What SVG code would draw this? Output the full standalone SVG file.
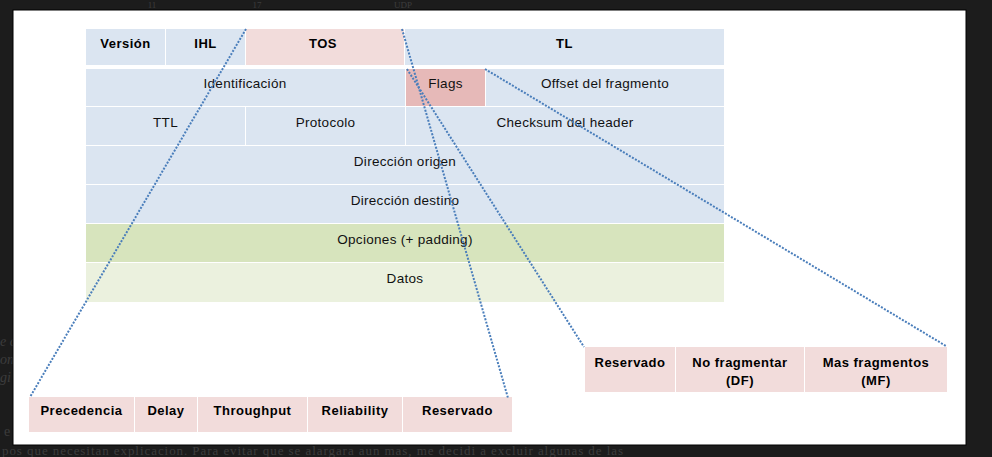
<svg xmlns="http://www.w3.org/2000/svg" width="992" height="457" viewBox="0 0 992 457">
<style>
  .bgtxt { font-family: "Liberation Serif", serif; fill: #3c3c3c; }
  .blue { fill: #dbe5f1; }
  .pink { fill: #f2dcdb; }
  .flag { fill: #e6b9b8; }
  .green { fill: #d7e4bd; }
  .lgreen { fill: #ebf1de; }
  .t { font-family: "Liberation Sans", Arial, sans-serif; font-size: 13.5px; letter-spacing: 0.3px; fill: #111; text-anchor: middle; }
  .b { font-family: "Liberation Sans", Arial, sans-serif; font-size: 13px; font-weight: bold; letter-spacing: 0.5px; fill: #000; text-anchor: middle; }
  .dot { fill: none; stroke: #4a7ebb; stroke-width: 2; stroke-dasharray: 2 1.5; }
</style>
<rect x="0" y="0" width="992" height="457" fill="#1c1c1c"/>
<g id="background-text">
  <text class="bgtxt" x="152" y="8" font-size="9" text-anchor="middle">11</text>
  <text class="bgtxt" x="257" y="8" font-size="9" text-anchor="middle">17</text>
  <text class="bgtxt" x="403" y="8" font-size="9" text-anchor="middle">UDP</text>
  <text class="bgtxt" x="0" y="346" font-size="14" font-style="italic">e c</text>
  <text class="bgtxt" x="0" y="364" font-size="14" font-style="italic">on</text>
  <text class="bgtxt" x="0" y="382" font-size="14" font-style="italic">gi</text>
  <text class="bgtxt" x="4" y="436" font-size="14">e e</text>
  <text class="bgtxt" x="2" y="455" font-size="13" textLength="621" lengthAdjust="spacing">pos que necesitan explicacion. Para evitar que se alargara aun mas, me decidi a excluir algunas de las</text>
</g>
<rect x="13" y="10" width="953" height="435" fill="#ffffff" stroke="#000" stroke-width="1"/>

<g id="header">
  <g id="version"><rect class="blue" x="86" y="29" width="79" height="36"/><text class="b" x="125.5" y="48">Versión</text></g>
  <g id="ihl"><rect class="blue" x="166" y="29" width="79" height="36"/><text class="b" x="205.5" y="48">IHL</text></g>
  <g id="tos"><rect class="pink" x="246" y="29" width="158" height="36"/><text class="b" x="323" y="48">TOS</text></g>
  <g id="tl"><rect class="blue" x="405" y="29" width="319" height="36"/><text class="b" x="564.5" y="48">TL</text></g>

  <g id="identificacion"><rect class="blue" x="86" y="69" width="319" height="37"/><text class="t" x="245" y="87.5">Identificación</text></g>
  <g id="flags"><rect class="flag" x="406" y="69" width="79" height="37"/><text class="t" x="445.5" y="87.5">Flags</text></g>
  <g id="offset"><rect class="blue" x="486" y="69" width="238" height="37"/><text class="t" x="605" y="87.5">Offset del fragmento</text></g>

  <g id="ttl"><rect class="blue" x="86" y="107" width="159" height="38"/><text class="t" x="165.5" y="127">TTL</text></g>
  <g id="protocolo"><rect class="blue" x="246" y="107" width="159" height="38"/><text class="t" x="325.5" y="127">Protocolo</text></g>
  <g id="checksum"><rect class="blue" x="406" y="107" width="318" height="38"/><text class="t" x="565" y="127">Checksum del header</text></g>

  <g id="origen"><rect class="blue" x="86" y="146" width="638" height="38"/><text class="t" x="405" y="165.5">Dirección origen</text></g>
  <g id="destino"><rect class="blue" x="86" y="185" width="638" height="38"/><text class="t" x="405" y="204.5">Dirección destino</text></g>
  <g id="opciones"><rect class="green" x="86" y="224" width="638" height="38"/><text class="t" x="405" y="243.5">Opciones (+ padding)</text></g>
  <g id="datos"><rect class="lgreen" x="86" y="263" width="638" height="39"/><text class="t" x="405" y="282.5">Datos</text></g>
</g>

<g id="tos-detail">
  <g id="precedencia"><rect class="pink" x="29" y="397" width="105" height="35"/><text class="b" x="81.5" y="415">Precedencia</text></g>
  <g id="delay"><rect class="pink" x="135" y="397" width="62" height="35"/><text class="b" x="166" y="415">Delay</text></g>
  <g id="throughput"><rect class="pink" x="198" y="397" width="109" height="35"/><text class="b" x="252.5" y="415">Throughput</text></g>
  <g id="reliability"><rect class="pink" x="308" y="397" width="94" height="35"/><text class="b" x="355" y="415">Reliability</text></g>
  <g id="tos-reservado"><rect class="pink" x="403" y="397" width="109" height="35"/><text class="b" x="457.5" y="415">Reservado</text></g>
</g>

<g id="flags-detail">
  <g id="flags-reservado"><rect class="pink" x="585" y="347" width="90" height="45"/><text class="b" x="630" y="366.5">Reservado</text></g>
  <g id="df"><rect class="pink" x="676" y="347" width="128" height="45"/><text class="b" x="740" y="366.5">No fragmentar</text><text class="b" x="740" y="384.5">(DF)</text></g>
  <g id="mf"><rect class="pink" x="805" y="347" width="142" height="45"/><text class="b" x="876" y="366.5">Mas fragmentos</text><text class="b" x="876" y="384.5">(MF)</text></g>
</g>

<g id="connectors">
  <line class="dot" x1="246" y1="29" x2="30" y2="397"/>
  <line class="dot" x1="402" y1="29" x2="508" y2="398"/>
  <line class="dot" x1="407" y1="69" x2="584" y2="347"/>
  <line class="dot" x1="485" y1="69" x2="946" y2="346"/>
</g>
</svg>
